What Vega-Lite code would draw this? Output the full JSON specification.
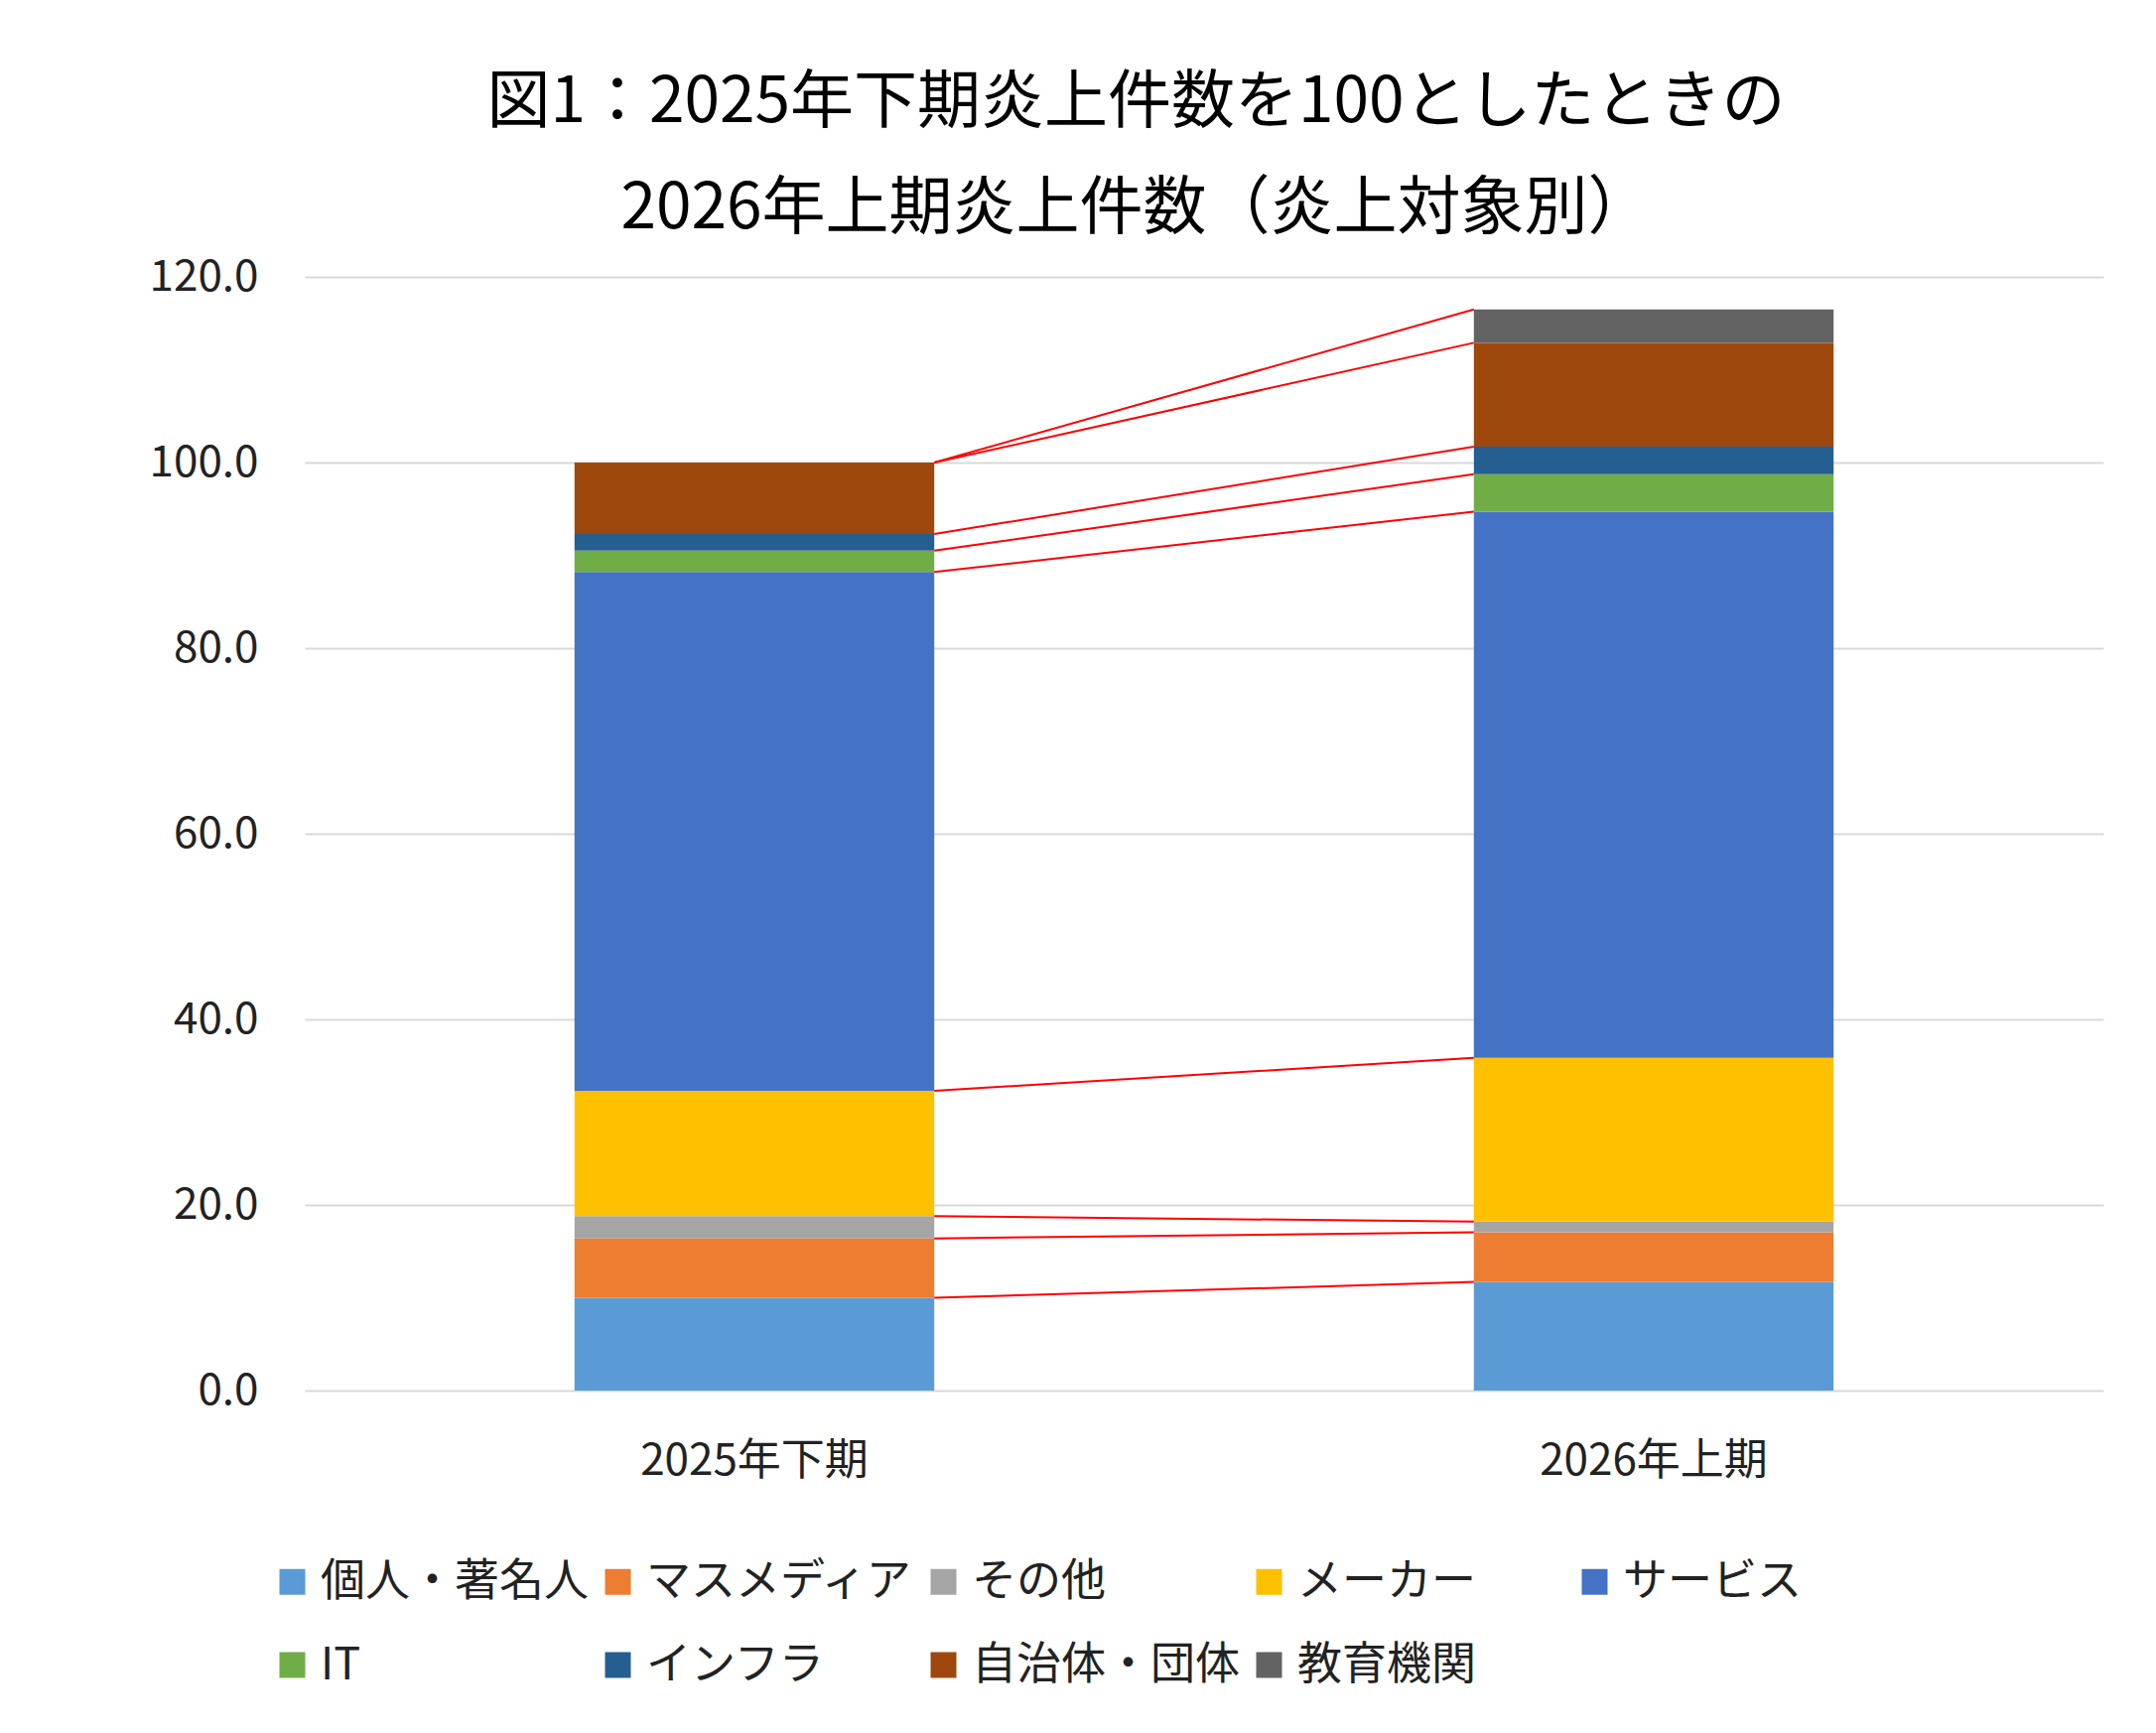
{
  "$schema": "https://vega.github.io/schema/vega-lite/v6.json",
  "width": 1812,
  "height": 1122,
  "autosize": {"type": "none"},
  "padding": {"left": 307, "top": 279, "right": 53, "bottom": 345},
  "background": "white",
  "title": {
    "text": ["図1：2025年下期炎上件数を100としたときの", "2026年上期炎上件数（炎上対象別）"],
    "fontSize": 64,
    "lineHeight": 107,
    "fontWeight": "normal",
    "color": "#000000",
    "anchor": "middle",
    "frame": "bounds",
    "dx": 10,
    "offset": 14
  },
  "config": {
    "font": "Noto Sans CJK JP",
    "view": {"stroke": null}
  },
  "datasets": {
    "bars": [
      {"period": "2025年下期", "target": "個人・著名人", "idx": 1, "value": 10.0},
      {"period": "2025年下期", "target": "マスメディア", "idx": 2, "value": 6.4},
      {"period": "2025年下期", "target": "その他", "idx": 3, "value": 2.4},
      {"period": "2025年下期", "target": "メーカー", "idx": 4, "value": 13.5},
      {"period": "2025年下期", "target": "サービス", "idx": 5, "value": 55.9},
      {"period": "2025年下期", "target": "IT", "idx": 6, "value": 2.3},
      {"period": "2025年下期", "target": "インフラ", "idx": 7, "value": 1.8},
      {"period": "2025年下期", "target": "自治体・団体", "idx": 8, "value": 7.7},
      {"period": "2025年下期", "target": "教育機関", "idx": 9, "value": 0.0},
      {"period": "2026年上期", "target": "個人・著名人", "idx": 1, "value": 11.7},
      {"period": "2026年上期", "target": "マスメディア", "idx": 2, "value": 5.35},
      {"period": "2026年上期", "target": "その他", "idx": 3, "value": 1.15},
      {"period": "2026年上期", "target": "メーカー", "idx": 4, "value": 17.65},
      {"period": "2026年上期", "target": "サービス", "idx": 5, "value": 58.85},
      {"period": "2026年上期", "target": "IT", "idx": 6, "value": 4.05},
      {"period": "2026年上期", "target": "インフラ", "idx": 7, "value": 2.95},
      {"period": "2026年上期", "target": "自治体・団体", "idx": 8, "value": 11.2},
      {"period": "2026年上期", "target": "教育機関", "idx": 9, "value": 3.6}
    ],
    "links": [
      {"from": "2025年下期", "to": "2026年上期", "target": "個人・著名人", "top1": 10.0, "top2": 11.7},
      {"from": "2025年下期", "to": "2026年上期", "target": "マスメディア", "top1": 16.4, "top2": 17.05},
      {"from": "2025年下期", "to": "2026年上期", "target": "その他", "top1": 18.8, "top2": 18.2},
      {"from": "2025年下期", "to": "2026年上期", "target": "メーカー", "top1": 32.3, "top2": 35.85},
      {"from": "2025年下期", "to": "2026年上期", "target": "サービス", "top1": 88.2, "top2": 94.7},
      {"from": "2025年下期", "to": "2026年上期", "target": "IT", "top1": 90.5, "top2": 98.75},
      {"from": "2025年下期", "to": "2026年上期", "target": "インフラ", "top1": 92.3, "top2": 101.7},
      {"from": "2025年下期", "to": "2026年上期", "target": "自治体・団体", "top1": 100.0, "top2": 112.9},
      {"from": "2025年下期", "to": "2026年上期", "target": "教育機関", "top1": 100.0, "top2": 116.5}
    ]
  },
  "layer": [
    {
      "data": {"name": "bars"},
      "mark": {"type": "bar"},
      "encoding": {
        "x": {
          "field": "period",
          "type": "nominal",
          "sort": ["2025年下期", "2026年上期"],
          "scale": {"paddingInner": 0.6, "paddingOuter": 0.3},
          "axis": {
            "title": null,
            "domain": false,
            "ticks": false,
            "labelAngle": 0,
            "labelFontSize": 44,
            "labelPadding": 49,
            "labelLimit": 500,
            "labelColor": "#222222"
          }
        },
        "y": {
          "field": "value",
          "type": "quantitative",
          "stack": "zero",
          "scale": {"domain": [0, 120]},
          "axis": {
            "title": null,
            "values": [0, 20, 40, 60, 80, 100, 120],
            "format": ".1f",
            "domain": false,
            "ticks": false,
            "labelFontSize": 44,
            "labelPadding": 47,
            "labelColor": "#222222",
            "gridColor": "#d9d9d9",
            "gridWidth": 2
          }
        },
        "color": {
          "field": "target",
          "type": "nominal",
          "scale": {
            "domain": ["個人・著名人", "マスメディア", "その他", "メーカー", "サービス", "IT", "インフラ", "自治体・団体", "教育機関"],
            "range": ["#5b9bd5", "#ed7d31", "#a5a5a5", "#ffc000", "#4472c4", "#70ad47", "#255e91", "#9e480e", "#636363"]
          },
          "legend": {
            "title": null,
            "orient": "none",
            "legendX": -35,
            "legendY": 1292,
            "direction": "horizontal",
            "columns": 5,
            "gridAlign": "all",
            "padding": 0,
            "symbolType": "square",
            "symbolSize": 676,
            "symbolStrokeWidth": 0,
            "labelFontSize": 45,
            "labelOffset": 6,
            "labelLimit": 500,
            "labelColor": "#222222",
            "columnPadding": 6,
            "rowPadding": 38
          }
        },
        "order": {"field": "idx", "type": "quantitative"}
      }
    },
    {
      "data": {"name": "links"},
      "mark": {"type": "rule", "color": "#ff0000", "strokeWidth": 2},
      "encoding": {
        "x": {"field": "from", "type": "nominal", "sort": ["2025年下期", "2026年上期"], "bandPosition": 1},
        "x2": {"field": "to", "bandPosition": 0},
        "y": {"field": "top1", "type": "quantitative"},
        "y2": {"field": "top2"}
      }
    }
  ]
}
